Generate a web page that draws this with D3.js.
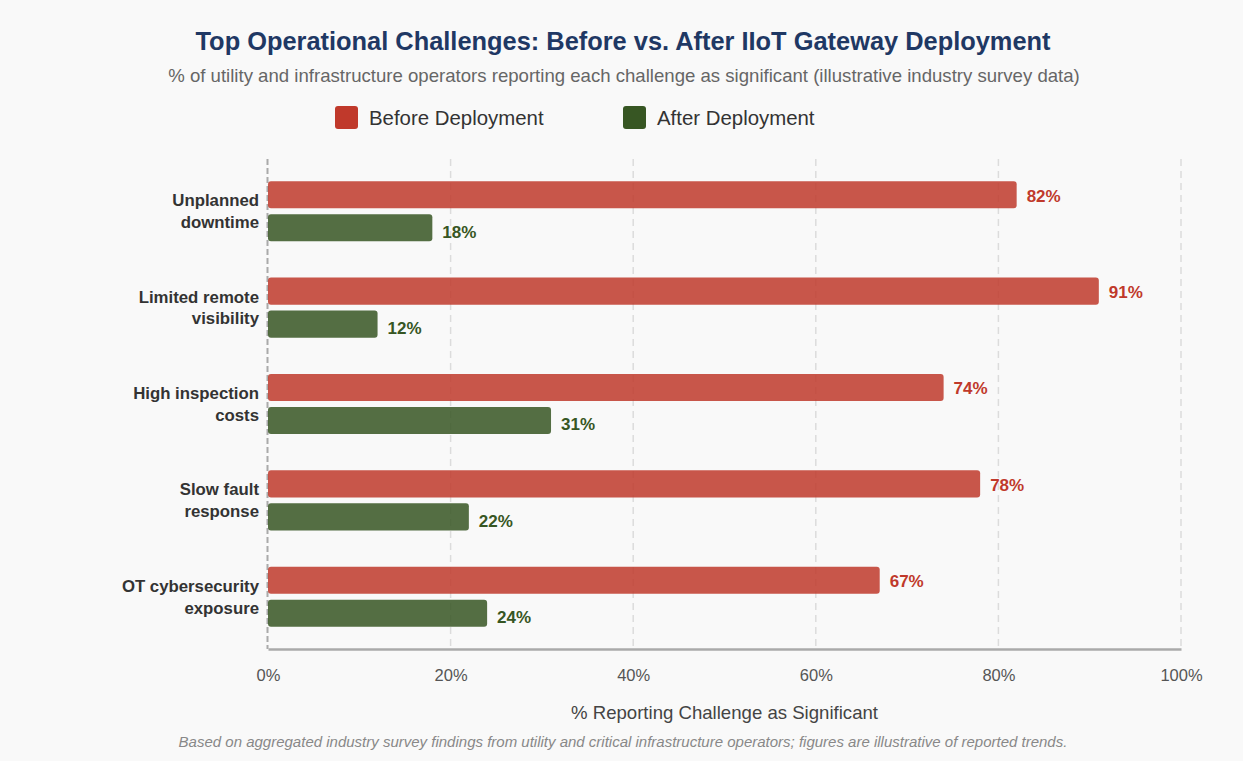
<!DOCTYPE html>
<html>
<head>
<meta charset="utf-8">
<script src="https://cdn.jsdelivr.net/npm/d3@7"></script>
<style>
  html, body { margin: 0; padding: 0; background: #f9f9f9; }
  svg { display: block; font-family: "Liberation Sans", Arial, sans-serif; }
</style>
</head>
<body>
<svg id="chart" width="1243" height="761"></svg>
<script>
// chart data
const categories = [
  ['Unplanned', 'downtime'],
  ['Limited remote', 'visibility'],
  ['High inspection', 'costs'],
  ['Slow fault', 'response'],
  ['OT cybersecurity', 'exposure']
];
const seriesNames = ['Before Deployment', 'After Deployment'];
const beforeValues = [82, 91, 74, 78, 67];
const afterValues = [18, 12, 31, 22, 24];
const xTicks = [0, 20, 40, 60, 80, 100];

const barColors = ['#c0392b', '#375623'];
const labelColors = ['#c0392b', '#375623'];

let margin = {top: 159, right: 62, bottom: 112, left: 268};
let width = 1243 - margin.left - margin.right;
let height = 761 - margin.top - margin.bottom;

const svg = d3.select('#chart');

svg.append('rect').attr('width', 1243).attr('height', 761).attr('fill', '#f9f9f9');

// titles
svg.append('text')
    .attr('x', 623).attr('y', 50)
    .attr('text-anchor', 'middle')
    .style('font-size', '25.4px').style('font-weight', 'bold')
    .style('fill', '#1f3864')
    .text('Top Operational Challenges: Before vs. After IIoT Gateway Deployment');

svg.append('text')
    .attr('x', 624).attr('y', 82)
    .attr('text-anchor', 'middle')
    .style('font-size', '18.6px')
    .style('fill', '#666')
    .text('% of utility and infrastructure operators reporting each challenge as significant (illustrative industry survey data)');

// legend
let legend = svg.append('g').attr('transform', 'translate(335, 106)');
let legends = legend.selectAll('g')
    .data(seriesNames)
    .enter()
        .append('g')
        .attr('transform', (d, i) => `translate(${i * 288}, 0)`);

legends.append('rect')
    .attr('width', 23).attr('height', 23)
    .attr('rx', 3)
    .attr('fill', (d, i) => barColors[i]);

legends.append('text')
    .attr('x', 34).attr('y', 19)
    .text(d => d)
    .style('font-size', '20.4px').style('fill', '#333');

let chart = svg.append('g')
    .attr('transform', `translate(${margin.left}, ${margin.top})`);

let x = d3.scaleLinear().domain([0, 100]).range([0, width]);
let y = d3.scaleBand().domain(d3.range(categories.length)).range([0, height]).paddingInner(0.377).paddingOuter(0.23);
let ySub = d3.scaleBand().domain([0, 1]).range([0, y.bandwidth()]).paddingInner(0.18);

// grid lines
chart.append('g')
    .selectAll('line')
    .data(xTicks.filter(t => t > 0))
    .enter()
        .append('line')
        .attr('x1', d => x(d)).attr('x2', d => x(d))
        .attr('y1', 0).attr('y2', height)
        .attr('stroke', '#dcdcdc')
        .attr('stroke-width', 1.5)
        .attr('stroke-dasharray', '7,5');

// left axis line (dashed)
chart.append('line')
    .attr('x1', -0.5).attr('x2', -0.5)
    .attr('y1', 0).attr('y2', height)
    .attr('stroke', '#aaa')
    .attr('stroke-width', 2)
    .attr('stroke-dasharray', '6,3');

// x axis
let xAxis = d3.axisBottom(x).tickValues(xTicks).tickFormat(d => d + '%').tickSize(0).tickPadding(20);
let xAxisG = chart.append('g')
    .attr('transform', `translate(0, ${height})`)
    .call(xAxis);
xAxisG.select('.domain').attr('stroke', '#aaa').attr('stroke-width', 2.5);
xAxisG.selectAll('text')
    .style('font-size', '16.5px').style('fill', '#555')
    .style('font-family', '"Liberation Sans", Arial, sans-serif');

svg.append('text')
    .attr('x', margin.left + width / 2).attr('y', 719)
    .attr('text-anchor', 'middle')
    .style('font-size', '18.6px').style('fill', '#444')
    .text('% Reporting Challenge as Significant');

// category labels
let catLabels = chart.append('g').selectAll('text')
    .data(categories)
    .enter()
        .append('text')
        .attr('x', -9)
        .attr('y', (d, i) => y(i) + y.bandwidth() / 2)
        .attr('text-anchor', 'end')
        .style('font-size', '16.8px').style('font-weight', 'bold').style('fill', '#333');

catLabels.append('tspan').attr('x', -9).attr('dy', '-0.3em').text(d => d[0]);
catLabels.append('tspan').attr('x', -9).attr('dy', '1.3em').text(d => d[1]);

// bars
const seriesValues = [beforeValues, afterValues];
seriesValues.forEach((vals, s) => {
    let g = chart.append('g');
    g.selectAll('rect')
        .data(vals)
        .enter()
            .append('rect')
            .attr('x', 0)
            .attr('y', (d, i) => y(i) + ySub(s))
            .attr('width', d => x(d))
            .attr('height', ySub.bandwidth())
            .attr('rx', 3)
            .attr('fill', barColors[s])
            .attr('fill-opacity', 0.85);

    g.selectAll('text')
        .data(vals)
        .enter()
            .append('text')
            .attr('x', d => x(d) + 10)
            .attr('y', (d, i) => y(i) + ySub(s) + ySub.bandwidth() / 2 + (s === 1 ? 4 : 1))
            .attr('dy', '0.35em')
            .text(d => d + '%')
            .style('font-size', '17px').style('font-weight', 'bold')
            .style('fill', labelColors[s]);
});

// footnote
svg.append('text')
    .attr('x', 623).attr('y', 747)
    .attr('text-anchor', 'middle')
    .style('font-size', '15px').style('font-style', 'italic').style('fill', '#888')
    .text('Based on aggregated industry survey findings from utility and critical infrastructure operators; figures are illustrative of reported trends.');
</script>
</body>
</html>
